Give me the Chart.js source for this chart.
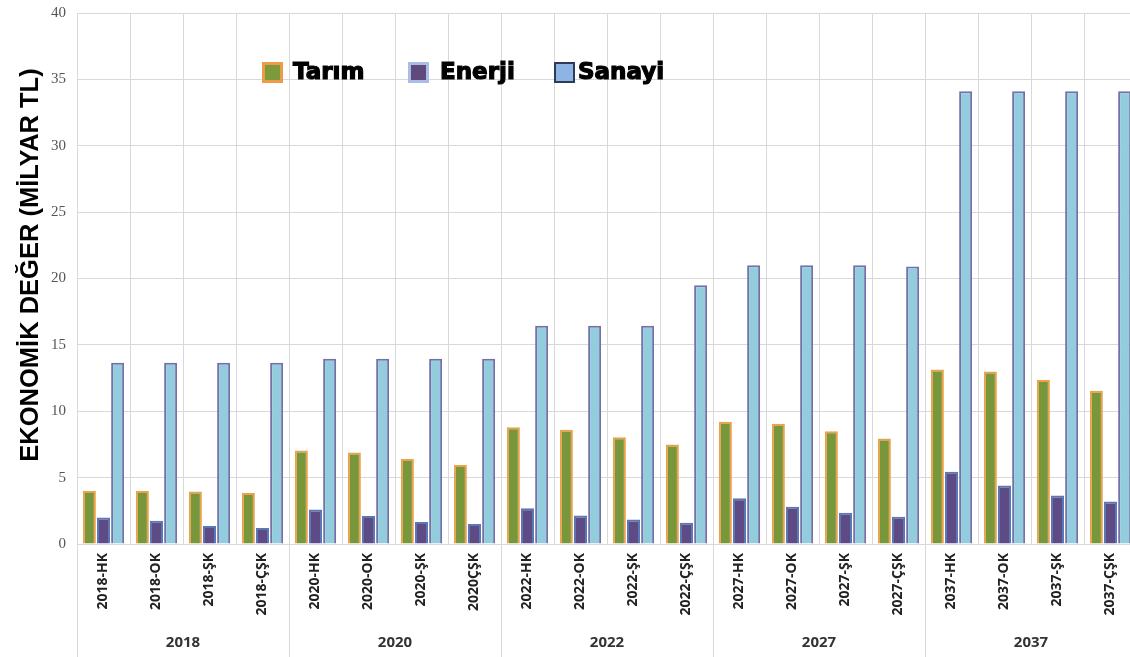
<!DOCTYPE html>
<html>
<head>
<meta charset="utf-8">
<script src="https://cdn.jsdelivr.net/npm/chart.js@4.4.0/dist/chart.umd.min.js"></script>
<style>
  html, body { margin: 0; padding: 0; background: #fff; overflow: hidden; }
  #wrap { width: 1137px; height: 657px; }
</style>
</head>
<body>
<div id="wrap"><canvas id="chart" width="1137" height="657"></canvas></div>
<script>
// Chart data
const categories = [
  "2018-HK", "2018-OK", "2018-ŞK", "2018-ÇŞK",
  "2020-HK", "2020-OK", "2020-ŞK", "2020ÇŞK",
  "2022-HK", "2022-OK", "2022-ŞK", "2022-ÇŞK",
  "2027-HK", "2027-OK", "2027-ŞK", "2027-ÇŞK",
  "2037-HK", "2037-OK", "2037-ŞK", "2037-ÇŞK",
];
const groups = ["2018", "2020", "2022", "2027", "2037"];
const tarim = [4.0, 4.0, 3.95, 3.85, 7.05, 6.9, 6.4, 5.95, 8.8, 8.6, 8.05, 7.5, 9.2, 9.05, 8.5, 7.95, 13.15, 13.0, 12.35, 11.55];
const enerji = [2.0, 1.75, 1.35, 1.2, 2.6, 2.1, 1.65, 1.5, 2.7, 2.15, 1.85, 1.6, 3.45, 2.8, 2.35, 2.05, 5.45, 4.4, 3.65, 3.2];
const sanayi = [13.65, 13.65, 13.65, 13.65, 13.95, 13.95, 13.95, 13.95, 16.45, 16.45, 16.45, 19.5, 21.0, 21.0, 21.0, 20.9, 34.1, 34.1, 34.1, 34.1];
const yTicks = [0, 5, 10, 15, 20, 25, 30, 35, 40];
const yTitle = "EKONOMİK DEĞER (MİLYAR TL)";

// Legend drawn inside the plot area
const insideLegend = {
  id: "insideLegend",
  afterDraw(chart) {
    const ctx = chart.ctx;
    const items = [
      { x: 262, textX: 293, fill: "#7a9a3c", border: "#ef9a48" },
      { x: 408, textX: 440, fill: "#604a7b", border: "#a9bde6" },
      { x: 554, textX: 578, fill: "#8db4e2", border: "#2f3a5a" },
    ];
    ctx.save();
    ctx.font = "bold 23px 'DejaVu Sans'";
    ctx.textBaseline = "middle";
    ctx.lineWidth = 1.2;
    ctx.strokeStyle = "#000";
    chart.data.datasets.forEach((ds, i) => {
      const it = items[i];
      ctx.fillStyle = it.border;
      ctx.fillRect(it.x, 62, 21, 21);
      ctx.fillStyle = it.fill;
      if (i === 2) ctx.fillRect(it.x + 2, 64, 17, 17);
      else ctx.fillRect(it.x + 3, 65, 15, 15);
      ctx.fillStyle = "#000";
      ctx.fillText(ds.label, it.textX, 73);
      ctx.strokeText(ds.label, it.textX, 73);
    });
    ctx.restore();
  },
};

// Y axis title, a bit above the centre as in the original
const yTitlePlugin = {
  id: "yTitlePlugin",
  afterDraw(chart) {
    const ctx = chart.ctx;
    ctx.save();
    ctx.translate(31, 265);
    ctx.rotate(-Math.PI / 2);
    ctx.font = "bold 25.5px 'Liberation Sans'";
    ctx.fillStyle = "#000";
    ctx.textAlign = "center";
    ctx.textBaseline = "middle";
    ctx.fillText(yTitle, 0, 0);
    ctx.restore();
  },
};

// Group labels and separators under the x axis
const groupAxis = {
  id: "groupAxis",
  afterDraw(chart) {
    const ctx = chart.ctx;
    const x = chart.scales.x;
    const area = chart.chartArea;
    const step = (area.right - area.left) / categories.length;
    ctx.save();
    ctx.strokeStyle = "#d9d9d9";
    ctx.lineWidth = 1;
    for (let g = 0; g <= groups.length; g++) {
      const px = Math.round(area.left + g * 4 * step) + 0.5;
      ctx.beginPath();
      ctx.moveTo(px, area.bottom);
      ctx.lineTo(px, 657);
      ctx.stroke();
    }
    ctx.font = "bold 15px 'Open Sans'";
    ctx.fillStyle = "#333";
    ctx.textAlign = "center";
    ctx.textBaseline = "middle";
    groups.forEach((g, i) => {
      const cx = (x.getPixelForValue(i * 4 + 1) + x.getPixelForValue(i * 4 + 2)) / 2;
      ctx.fillText(g, cx, 643);
    });
    ctx.restore();
  },
};

const ctx = document.getElementById("chart");

new Chart(ctx, {
  type: "bar",
  data: {
    labels: categories,
    datasets: [
      {
        label: "Tarım",
        data: tarim,
        backgroundColor: "#77973a",
        borderColor: "#eea04a",
        borderWidth: 2,
      },
      {
        label: "Enerji",
        data: enerji,
        backgroundColor: "#5e4a84",
        borderColor: "#5a78b4",
        borderWidth: 2,
      },
      {
        label: "Sanayi",
        data: sanayi,
        backgroundColor: "#93cddd",
        borderColor: "#7470a8",
        borderWidth: 2,
      },
    ],
  },
  options: {
    responsive: false,
    animation: false,
    layout: { padding: { top: 13, right: 0, left: 0, bottom: 0 } },
    categoryPercentage: 0.8,
    barPercentage: 0.92,
    plugins: {
      legend: { display: false },
      tooltip: { enabled: false },
    },
    scales: {
      x: {
        grid: {
          offset: true,
          color: "#d9d9d9",
          drawTicks: false,
        },
        border: { color: "#d9d9d9" },
        ticks: {
          autoSkip: false,
          maxRotation: 90,
          minRotation: 90,
          padding: 9,
          color: "#222",
          font: { family: "'Open Sans'", size: 14, weight: "bold" },
        },
        afterFit(scale) {
          scale.height = 113;
          scale.paddingLeft = 0;
          scale.paddingRight = 0;
        },
      },
      y: {
        min: 0,
        max: 40,
        afterBuildTicks(scale) {
          scale.ticks = yTicks.map((v) => ({ value: v }));
        },
        grid: { color: "#d9d9d9", drawTicks: false },
        border: { display: false },
        ticks: {
          padding: 11,
          color: "#555",
          font: { family: "'Liberation Serif'", size: 15 },
        },
        afterFit(scale) {
          scale.width = 77;
          scale.paddingTop = 0;
          scale.paddingBottom = 0;
        },
      },
    },
  },
  plugins: [insideLegend, yTitlePlugin, groupAxis],
});
</script>
</body>
</html>
